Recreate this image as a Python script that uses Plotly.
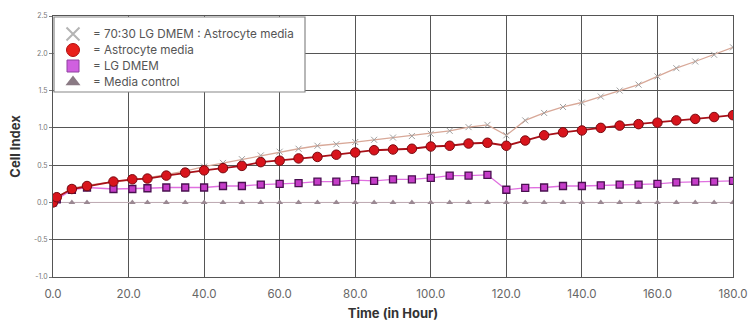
import plotly.graph_objects as go

time_h = [0, 1, 5, 9, 16, 21, 25, 30, 35, 40, 45, 50, 55, 60, 65, 70, 75, 80, 85, 90,
          95, 100, 105, 110, 115, 120, 125, 130, 135, 140, 145, 150, 155, 160, 165, 170, 175, 180]
mix_7030 = [0.00, 0.07, 0.19, 0.23, 0.28, 0.30, 0.33, 0.37, 0.42, 0.48, 0.53, 0.58, 0.63, 0.68,
            0.72, 0.76, 0.78, 0.81, 0.84, 0.87, 0.89, 0.92, 0.96, 1.01, 1.04, 0.90, 1.10, 1.20,
            1.28, 1.34, 1.42, 1.50, 1.58, 1.69, 1.80, 1.89, 1.98, 2.08]
astro = [0.00, 0.07, 0.18, 0.22, 0.28, 0.31, 0.32, 0.36, 0.40, 0.43, 0.46, 0.49, 0.54, 0.56,
         0.59, 0.61, 0.64, 0.67, 0.70, 0.71, 0.72, 0.75, 0.76, 0.79, 0.80, 0.76, 0.83, 0.90,
         0.94, 0.965, 1.00, 1.03, 1.05, 1.07, 1.10, 1.12, 1.145, 1.17]
lg_dmem = [0.00, 0.04, 0.17, 0.20, 0.18, 0.18, 0.19, 0.20, 0.20, 0.20, 0.22, 0.22, 0.24, 0.25,
           0.26, 0.28, 0.28, 0.30, 0.29, 0.31, 0.31, 0.33, 0.36, 0.36, 0.37, 0.17, 0.195, 0.20,
           0.22, 0.22, 0.23, 0.24, 0.24, 0.25, 0.27, 0.28, 0.28, 0.29]
ctrl_time = [0, 5, 9, 21, 25, 30, 35, 40, 45, 50, 55, 60, 65, 70, 75, 80, 85, 90, 95, 100,
             105, 110, 115, 120, 125, 130, 135, 140, 145, 150, 155, 160, 165, 170, 175, 180]
media_ctrl = [0.0] * len(ctrl_time)

legend_names = ["= 70:30 LG DMEM : Astrocyte media", "= Astrocyte media", "= LG DMEM", "= Media control"]

x_ticks = [0, 20, 40, 60, 80, 100, 120, 140, 160, 180]
y_ticks = [-1.0, -0.5, 0.0, 0.5, 1.0, 1.5, 2.0, 2.5]
X_RANGE = [0, 180]
Y_RANGE = [-1.0, 2.5]

fig = go.Figure()

fig.add_trace(go.Scatter(x=ctrl_time, y=media_ctrl, mode="lines+markers", showlegend=False,
                         line=dict(color="#c8b4bc", width=1),
                         marker=dict(symbol="triangle-up", size=6, color="#9a8892")))
fig.add_trace(go.Scatter(x=time_h, y=lg_dmem, mode="lines+markers", showlegend=False,
                         line=dict(color="#e070e0", width=1.3),
                         marker=dict(symbol="square", size=7, color="#c53cc8",
                                     line=dict(color="#4a1050", width=1.3))))
fig.add_trace(go.Scatter(x=time_h, y=mix_7030, mode="lines+markers", showlegend=False,
                         line=dict(color="#d8a898", width=1.3),
                         marker=dict(symbol="x-thin", size=6, color="#a0a0a0",
                                     line=dict(color="#a0a0a0", width=1))))
fig.add_trace(go.Scatter(x=time_h, y=astro, mode="lines+markers", showlegend=False,
                         line=dict(color="#a81018", width=1.8),
                         marker=dict(symbol="circle", size=9.5, color="#d8141c",
                                     line=dict(color="#7a0a10", width=1))))

# manual legend, positioned in plot-area pixel units (680 x 261)
PW, PH = 680, 261
def px_x(p):
    return X_RANGE[0] + p / PW * (X_RANGE[1] - X_RANGE[0])
def px_y(p):
    return Y_RANGE[1] - p / PH * (Y_RANGE[1] - Y_RANGE[0])

leg_rows = [18, 34, 50, 66]
leg_styles = [
    dict(symbol="x-thin", size=13, color="#b4b4b4", line=dict(color="#b4b4b4", width=2)),
    dict(symbol="circle", size=13, color="#e8201c", line=dict(color="#b01010", width=1)),
    dict(symbol="square", size=12, color="#d060e0", line=dict(color="#9040a0", width=1)),
    dict(symbol="triangle-up", size=13, color="#8a7a84", line=dict(width=0)),
]
for yrow, st in zip(leg_rows, leg_styles):
    fig.add_trace(go.Scatter(x=[px_x(20)], y=[px_y(yrow)], mode="markers",
                             marker=st, showlegend=False, hoverinfo="skip", cliponaxis=False))

shapes = [dict(type="rect", xref="x", yref="y", x0=px_x(1), x1=px_x(252), y0=px_y(76), y1=px_y(1),
               line=dict(color="#888", width=1.2), fillcolor="white", layer="between")]
annotations = [dict(xref="x", yref="y", x=px_x(38), y=px_y(yrow), text=name, showarrow=False,
                    xanchor="left", yanchor="middle",
                    font=dict(size=11.7, color="#555", family="Inter, Liberation Sans, sans-serif"))
               for yrow, name in zip(leg_rows, legend_names)]

fig.update_layout(
    width=749, height=321,
    margin=dict(l=53, r=16, t=16, b=44),
    paper_bgcolor="white", plot_bgcolor="white",
    font=dict(family="Inter, Liberation Sans, sans-serif", color="#555"),
    showlegend=False,
    shapes=shapes,
    annotations=annotations,
    xaxis=dict(range=X_RANGE, tickvals=x_ticks, ticktext=[f"{v:.1f}" for v in x_ticks],
               showgrid=True, gridcolor="#555", gridwidth=1, zeroline=False,
               showline=True, linecolor="#555", mirror=True, automargin=False,
               tickfont=dict(size=11.5, color="#666"), ticklabelstandoff=6,
               title=dict(text="<b>Time (in Hour)</b>", font=dict(size=13, color="#333"), standoff=10)),
    yaxis=dict(range=Y_RANGE, tickvals=y_ticks, ticktext=[f"{v:.1f}" for v in y_ticks],
               showgrid=True, gridcolor="#555", gridwidth=1, zeroline=False,
               showline=True, linecolor="#555", mirror=True, automargin=False,
               tickfont=dict(size=7, color="#777"), ticks="outside", ticklen=3, tickcolor="#777",
               title=dict(text="<b>Cell Index</b>", font=dict(size=13, color="#333"), standoff=10)),
)

fig.write_html("out.html")
